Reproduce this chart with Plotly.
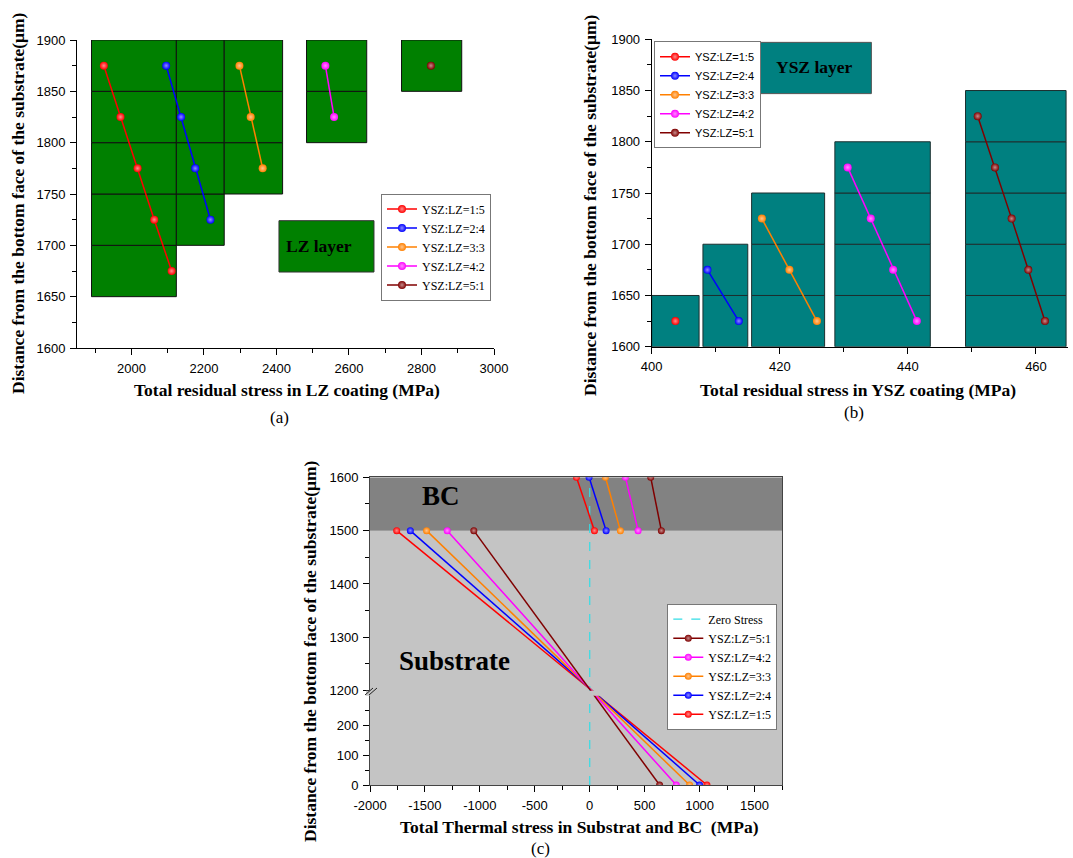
import plotly.graph_objects as go

# ---------------- data ----------------
ratios = ["YSZ:LZ=1:5", "YSZ:LZ=2:4", "YSZ:LZ=3:3", "YSZ:LZ=4:2", "YSZ:LZ=5:1"]
colors = ["#ff0000", "#0000ff", "#ff8000", "#ff00ff", "#800000"]

# (a) LZ coating
lz_depth = [1875, 1825, 1775, 1725, 1675]
lz_stress_15 = [1924, 1970, 2017, 2063, 2111]
lz_stress_24 = [2096, 2137, 2176, 2218]
lz_stress_33 = [2298, 2329, 2362]
lz_stress_42 = [2535, 2559]
lz_stress_51 = [2826]
lz_cell_left = [1890, 2124, 2256, 2483, 2745]
lz_cell_right = [2124, 2256, 2417, 2649, 2911]
lz_cell_bottom = [1650, 1700, 1750, 1800, 1850]
lz_cell_top = 1900
lz_label_box_x = [2407, 2669]
lz_label_box_y = [1674, 1724]

# (b) YSZ coating
ysz_depth = [1825, 1775, 1725, 1675, 1625]
ysz_stress_15 = [403.7]
ysz_stress_24 = [408.7, 413.6]
ysz_stress_33 = [417.2, 421.5, 425.8]
ysz_stress_42 = [430.6, 434.2, 437.7, 441.4]
ysz_stress_51 = [450.9, 453.6, 456.2, 458.8, 461.4]
ysz_cell_left = [400.0, 408.0, 415.6, 428.6, 449.0]
ysz_cell_right = [407.4, 415.0, 427.0, 443.5, 464.7]
ysz_cell_top = [1650, 1700, 1750, 1800, 1850]
ysz_cell_bottom = 1600
ysz_label_box_x = [416.7, 434.3]
ysz_label_box_y = [1847, 1897]
cell_height = 50

# (c) substrate and BC
bc_depth = [1600, 1500]
bc_stress_top = [-121, -6, 143, 325, 555]
bc_stress_bottom = [43, 149, 279, 440, 652]
sub_depth = [1500, 0]
sub_stress_top = [-1757, -1633, -1485, -1297, -1055]
sub_stress_bottom = [1067, 1000, 909, 788, 636]
zero_stress = 0
c_upper_ticks = [1200, 1300, 1400, 1500, 1600]
c_lower_ticks = [0, 100, 200]
c_upper_minor = [1250, 1350, 1450, 1550]
c_lower_minor = [50, 150, 250]
c_x_ticks = [-2000, -1500, -1000, -500, 0, 500, 1000, 1500]

# broken y axis of panel (c): lower segment compressed
BREAK_AT = 1200
LOWER_SCALE = 0.557
LOWER_OFFSET = 1023.1


def yc(v):
    return v if v >= BREAK_AT else LOWER_OFFSET + LOWER_SCALE * v


# ---------------- layout helpers ----------------
W, H = 1073, 858


def px(x):
    return x / W


def py(y):
    return 1 - y / H


SERIF = "Liberation Serif"
SANS = "Liberation Sans"


def lighten(hexc, f=0.55):
    r, g, b = int(hexc[1:3], 16), int(hexc[3:5], 16), int(hexc[5:7], 16)
    r, g, b = [int(c + (255 - c) * f) for c in (r, g, b)]
    return f"#{r:02x}{g:02x}{b:02x}"


def mk(color, size):
    return dict(size=size, color=color, line=dict(width=0),
                gradient=dict(type="radial", color=lighten(color)))


fig = go.Figure()

# ---- panel (a) ----
lz_series = [lz_stress_15, lz_stress_24, lz_stress_33, lz_stress_42, lz_stress_51]
for i, s in enumerate(lz_series):
    fig.add_trace(go.Scatter(
        x=s, y=lz_depth[:len(s)], xaxis="x", yaxis="y", mode="lines+markers",
        name=ratios[i], legend="legend",
        line=dict(color=colors[i], width=1.5), marker=mk(colors[i], 8)))

# ---- panel (b) ----
ysz_series = [ysz_stress_15, ysz_stress_24, ysz_stress_33, ysz_stress_42, ysz_stress_51]
for i, s in enumerate(ysz_series):
    fig.add_trace(go.Scatter(
        x=s, y=ysz_depth[-len(s):], xaxis="x2", yaxis="y2", mode="lines+markers",
        name=ratios[i], legend="legend2",
        line=dict(color=colors[i], width=1.5), marker=mk(colors[i], 8)))

# ---- panel (c) ----
fig.add_trace(go.Scatter(
    x=[zero_stress, zero_stress], y=[yc(0), yc(1600)], xaxis="x3", yaxis="y3",
    mode="lines", name="Zero Stress", legend="legend3", legendrank=1,
    line=dict(color="#33dde6", width=1.2, dash="dash")))
for i in range(5):
    fig.add_trace(go.Scatter(
        x=[bc_stress_top[i], bc_stress_bottom[i]], y=[yc(v) for v in bc_depth],
        xaxis="x3", yaxis="y3", mode="lines+markers", showlegend=False,
        legend="legend3", line=dict(color=colors[i], width=1.5),
        marker=mk(colors[i], 7)))
    fig.add_trace(go.Scatter(
        x=[sub_stress_top[i], sub_stress_bottom[i]], y=[yc(v) for v in sub_depth],
        xaxis="x3", yaxis="y3", mode="lines+markers", name=ratios[i],
        legend="legend3", legendrank=6 - i, line=dict(color=colors[i], width=1.5),
        marker=mk(colors[i], 7)))

shapes = []
# green cells (a)
for l, r, b in zip(lz_cell_left, lz_cell_right, lz_cell_bottom):
    y0 = b
    while y0 < lz_cell_top:
        shapes.append(dict(type="rect", xref="x", yref="y", x0=l, x1=r, y0=y0,
                           y1=y0 + cell_height, fillcolor="#008000",
                           line=dict(color="#111", width=1), layer="below"))
        y0 += cell_height
shapes.append(dict(type="rect", xref="x", yref="y", x0=lz_label_box_x[0],
                   x1=lz_label_box_x[1], y0=lz_label_box_y[0], y1=lz_label_box_y[1],
                   fillcolor="#008000", line=dict(color="#333", width=1), layer="below"))
# teal cells (b)
for l, r, t in zip(ysz_cell_left, ysz_cell_right, ysz_cell_top):
    y0 = ysz_cell_bottom
    while y0 < t:
        shapes.append(dict(type="rect", xref="x2", yref="y2", x0=l, x1=r, y0=y0,
                           y1=y0 + cell_height, fillcolor="#008080",
                           line=dict(color="#1c2f2f", width=1), layer="below"))
        y0 += cell_height
shapes.append(dict(type="rect", xref="x2", yref="y2", x0=ysz_label_box_x[0],
                   x1=ysz_label_box_x[1], y0=ysz_label_box_y[0], y1=ysz_label_box_y[1],
                   fillcolor="#008080", line=dict(color="#555", width=1), layer="below"))
# background regions (c)
shapes.append(dict(type="rect", xref="x3", yref="y3", x0=-2000, x1=1750,
                   y0=yc(0), y1=yc(1500), fillcolor="#c4c4c4", line=dict(width=0),
                   layer="below"))
shapes.append(dict(type="rect", xref="x3", yref="y3", x0=-2000, x1=1750,
                   y0=yc(1500), y1=yc(1600), fillcolor="#828282", line=dict(width=0),
                   layer="below"))
# axis break gap
shapes.append(dict(type="rect", xref="paper", yref="y3", x0=px(366), x1=px(780),
                   y0=1190.5, y1=BREAK_AT - 0.4, fillcolor="#c4c4c4",
                   line=dict(width=0), layer="above"))
for dx in (0, 4):
    shapes.append(dict(type="line", xref="paper", yref="paper",
                       x0=px(365 + dx), y0=py(695), x1=px(373 + dx), y1=py(688),
                       line=dict(color="#222", width=1)))

ann = []


def text(x, y, t, size, bold=True, family=SERIF, angle=0, xref="paper", yref="paper"):
    ann.append(dict(x=x, y=y, xref=xref, yref=yref, text=f"<b>{t}</b>" if bold else t,
                    showarrow=False, textangle=angle, xanchor="center", yanchor="middle",
                    font=dict(family=family, size=size, color="black")))


text(2518, 1699, "LZ layer", 17.5, xref="x", yref="y")
text(425.4, 1872.5, "YSZ layer", 17.5, xref="x2", yref="y2")
text(px(440.5), py(496.3), "BC", 27)
text(px(454.7), py(660.8), "Substrate", 27)
text(px(287), py(390), "Total residual stress in LZ coating (MPa)", 17.5)
text(px(858), py(390.5), "Total residual stress in YSZ coating (MPa)", 17.5)
text(px(579), py(827), "Total Thermal stress in Substrat and BC&nbsp; (MPa)", 17.5)
text(px(280), py(417), "(a)", 17, bold=False)
text(px(854), py(413), "(b)", 17, bold=False)
text(px(540), py(848), "(c)", 17, bold=False)
ytitle = "Distance from the bottom face of the substrate(μm)"
text(px(18), py(203), ytitle, 17.5, angle=-90)
text(px(590), py(205), ytitle, 17.5, angle=-90)
text(px(310), py(651), ytitle, 17.5, angle=-90)

tickfont = dict(family=SANS, size=13, color="black")
common = dict(showgrid=False, zeroline=False, showline=True, linecolor="black",
              linewidth=1, ticks="outside", ticklen=6, tickcolor="black",
              tickfont=tickfont, exponentformat="none", ticklabelstandoff=2,
              automargin=False)
minor = dict(ticks="outside", ticklen=4, tickcolor="black")

fig.update_layout(
    template="none",
    width=W, height=H, margin=dict(l=0, r=0, t=0, b=0, pad=0, autoexpand=False),
    paper_bgcolor="white", plot_bgcolor="rgba(0,0,0,0)", showlegend=True,
    xaxis=dict(domain=[px(77), px(494)], anchor="y", range=[1850, 3000],
               tick0=2000, dtick=200, minor=dict(dtick=100, **minor), **common),
    yaxis=dict(domain=[py(348), py(40)], anchor="x", range=[1600, 1900],
               dtick=50, minor=dict(dtick=25, **minor), **common),
    xaxis2=dict(domain=[px(651.7), px(1068)], anchor="y2", range=[400, 465],
                dtick=20, minor=dict(dtick=10, **minor), **common),
    yaxis2=dict(domain=[py(346.7), py(39.3)], anchor="x2", range=[1600, 1900],
                dtick=50, minor=dict(dtick=25, **minor), **common),
    xaxis3=dict(domain=[px(370), px(782)], anchor="y3", range=[-2000, 1750],
                tickvals=c_x_ticks, ticktext=[str(v) for v in c_x_ticks],
                minor=dict(dtick=250, **minor), mirror=True,
                **{**common, "linecolor": "#444"}),
    yaxis3=dict(domain=[py(785), py(477.3)], anchor="x3", range=[yc(0), yc(1600)],
                tickvals=[yc(v) for v in c_lower_ticks + c_upper_ticks],
                ticktext=[str(v) for v in c_lower_ticks + c_upper_ticks],
                minor=dict(tickvals=[yc(v) for v in c_lower_minor + c_upper_minor], **minor),
                mirror=True, **{**common, "linecolor": "#444"}),
    legend=dict(x=px(381), y=py(247), xanchor="left", yanchor="middle",
                bgcolor="white", bordercolor="#777", borderwidth=1,
                font=dict(family=SERIF, size=12, color="black"), tracegroupgap=0),
    legend2=dict(x=px(654), y=py(41.3), xanchor="left", yanchor="top",
                 bgcolor="white", bordercolor="#777", borderwidth=1,
                 font=dict(family=SANS, size=11, color="black"), tracegroupgap=0),
    legend3=dict(x=px(667.3), y=py(666.7), xanchor="left", yanchor="middle",
                 bgcolor="white", bordercolor="#777", borderwidth=1,
                 font=dict(family=SERIF, size=12, color="black"), tracegroupgap=0),
    shapes=shapes, annotations=ann,
)

fig.write_html("out.html", config={"displayModeBar": False},
               post_script="document.body.style.margin='0px';"
                           "document.body.style.overflow='hidden';")
